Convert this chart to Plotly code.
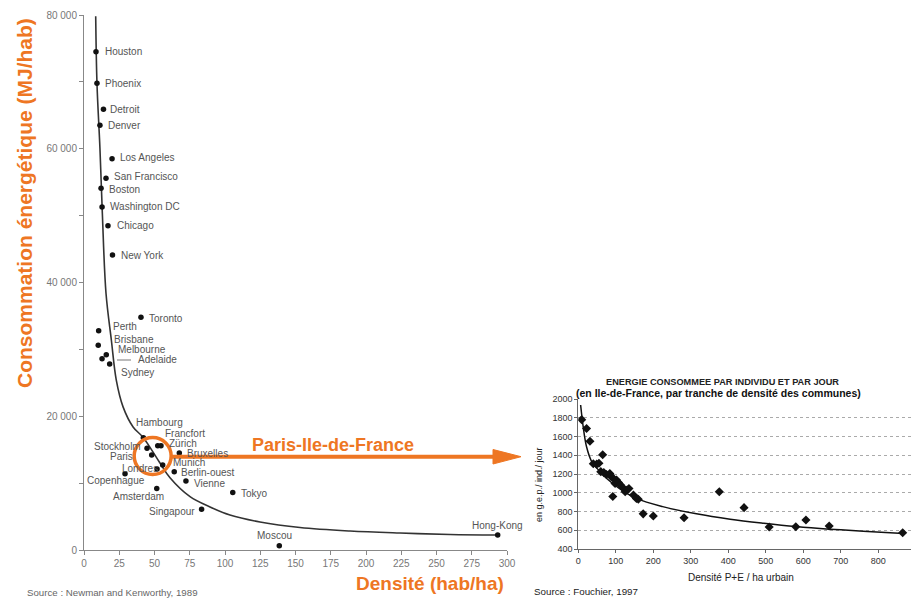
import plotly.graph_objects as go

# page body has an 8px margin: the figure is drawn 8px smaller and shifted
OFF = 8
W, H = 919 - OFF, 598 - OFF

# ---------------- Left chart data (Newman & Kenworthy) ----------------
CITIES = ["Houston", "Phoenix", "Detroit", "Denver", "Los Angeles", "San Francisco",
          "Boston", "Washington DC", "Chicago", "New York", "Toronto", "Perth",
          "Brisbane", "Melbourne", "Adelaide", "Sydney", "Hambourg", "Francfort",
          "Zürich", "Stockholm", "Paris", "Londres", "Munich", "Bruxelles",
          "Berlin-ouest", "Vienne", "Copenhague", "Amsterdam", "Tokyo", "Singapour",
          "Moscou", "Hong-Kong"]
DENSITY = [8.5, 9.2, 13.8, 11.3, 19.9, 15.6, 12.1, 12.8, 17.0, 20.2, 40.4, 10.4,
           10.1, 15.8, 12.8, 18.2, 42.1, 52.3, 54.6, 44.7, 48.0, 51.8, 55.8, 67.6,
           64.0, 72.3, 29.1, 51.6, 105.5, 83.4, 138.5, 293.4]
ENERGY = [74500, 69800, 65900, 63500, 58500, 55600, 54100, 51300, 48500, 44100,
          34800, 32800, 30600, 29200, 28600, 27800, 16800, 15600, 15600, 15200,
          14200, 12100, 12700, 14500, 11700, 10300, 11400, 9200, 8600, 6100, 640, 2240]

# trend curve
CURVE_X = [8.3, 9.2, 11.3, 13.0, 15.6, 19.4, 22.9, 27.7, 34.8, 42.1, 53.9, 61.0,
           75.2, 89.4, 103.5, 124.8, 153.2, 188.7, 224.1, 259.6, 293.4]
CURVE_Y = [79800, 69800, 60100, 50400, 38400, 31400, 25400, 21400, 18400, 16800,
           13000, 10800, 7970, 6430, 5230, 4190, 3360, 2840, 2540, 2320, 2240]

X_TICKS = list(range(0, 301, 25))

# ---------------- Right chart data (Fouchier) ----------------
IDF_DENS = [9, 22, 31, 40, 49, 55, 65, 60, 68, 75, 84, 88, 93, 98, 102, 107, 112,
            120, 125, 130, 135, 147, 155, 160, 92, 173, 200, 282, 376, 442, 509,
            580, 607, 669, 865]
IDF_ENERGY = [1780, 1685, 1550, 1310, 1305, 1315, 1405, 1225, 1215, 1195, 1205,
              1170, 1155, 1100, 1135, 1110, 1085, 1050, 1010, 1030, 1045, 975, 940,
              930, 960, 775, 752, 734, 1011, 841, 635, 638, 709, 645, 574]
IDF_CURVE_X = [6.2, 13, 22, 36, 50, 75, 110, 155, 225, 315, 405, 495, 580, 670, 760, 867]
IDF_CURVE_Y = [1936, 1705, 1490, 1330, 1260, 1155, 1045, 940, 852, 775, 718, 675,
               640, 612, 590, 565]

# label placement (style): xanchor, xshift, yshift in pixels
LABEL_STYLE = {
    "Houston": ("left", 7, 0), "Phoenix": ("left", 6, 0), "Detroit": ("left", 5, 0),
    "Denver": ("left", 6, 0), "Los Angeles": ("left", 6, 1),
    "San Francisco": ("left", 6, 2), "Boston": ("left", 6, -1),
    "Washington DC": ("left", 6, 0), "Chicago": ("left", 7, 0),
    "New York": ("left", 7, 0), "Toronto": ("left", 6, -1), "Perth": ("left", 12, 4),
    "Brisbane": ("left", 14, 6), "Melbourne": ("left", 10, 5),
    "Adelaide": ("left", 34, -1), "Sydney": ("left", 9, -8),
    "Hambourg": ("left", -9, 15), "Francfort": ("left", 5, 12), "Zürich": ("left", 6, 2),
    "Stockholm": ("right", -4, 2), "Paris": ("right", -17, -1),
    "Londres": ("right", 3, 1), "Munich": ("left", 8, 3), "Bruxelles": ("left", 6, 0),
    "Berlin-ouest": ("left", 5, -1), "Vienne": ("left", 6, -2),
    "Copenhague": ("center", -9, -7), "Amsterdam": ("center", -18, -8),
    "Tokyo": ("left", 6, -1), "Singapour": ("right", -5, -2),
    "Moscou": ("center", -5, 10), "Hong-Kong": ("center", 0, 10),
}

ORANGE = "#EE7623"
FONT = "Liberation Sans, Arial, sans-serif"


def pxx(x):
    return (x - OFF) / W


def pxy(y):
    return 1 - (y - OFF) / H


def note(x, y, text, size, color, xanchor="center", angle=0):
    return dict(x=pxx(x), y=pxy(y), xref="paper", yref="paper", text=text, showarrow=False,
                xanchor=xanchor, yanchor="middle", textangle=angle,
                font=dict(family=FONT, size=size, color=color))


fig = go.Figure()

# left curve and points
fig.add_trace(go.Scatter(x=CURVE_X, y=CURVE_Y, mode="lines", line=dict(color="#333", width=1.6, shape="spline"),
                         xaxis="x", yaxis="y", hoverinfo="skip"))
fig.add_trace(go.Scatter(x=DENSITY, y=ENERGY, mode="markers", marker=dict(color="#111", size=5.5),
                         text=CITIES, xaxis="x", yaxis="y"))

# right curve and points
fig.add_trace(go.Scatter(x=IDF_CURVE_X, y=IDF_CURVE_Y, mode="lines",
                         line=dict(color="#111", width=1.5, shape="spline"), xaxis="x2", yaxis="y2",
                         hoverinfo="skip"))
fig.add_trace(go.Scatter(x=IDF_DENS, y=IDF_ENERGY, mode="markers",
                         marker=dict(color="#111", size=7, symbol="diamond"), xaxis="x2", yaxis="y2"))

annotations = []
for c, d, e in zip(CITIES, DENSITY, ENERGY):
    xa, dx, dy = LABEL_STYLE[c]
    annotations.append(dict(x=d, y=e, xref="x", yref="y", text=c, showarrow=False,
                            xanchor=xa, yanchor="middle", xshift=dx, yshift=dy,
                            font=dict(family=FONT, size=10, color="#555")))

# text blocks
annotations += [
    note(24, 203, "<b>Consommation énergétique (MJ/hab)</b>", 21, ORANGE, angle=-90),
    note(430, 583, "<b>Densité (hab/ha)</b>", 19, ORANGE),
    note(333, 445, "<b>Paris-Ile-de-France</b>", 18, ORANGE),
    note(25, 592, "Source : Newman and Kenworthy, 1989", 9.7, "#666", xanchor="left"),
    note(722, 382, "<b>ENERGIE CONSOMMEE PAR INDIVIDU ET PAR JOUR</b>", 9.2, "#222"),
    note(718, 393, "<b>(en Ile-de-France, par tranche de densité des communes)</b>", 10.5, "#111"),
    note(539, 485, "en g.e.p./ ind./ jour", 9, "#222", angle=-90),
    note(741, 577, "Densité P+E / ha urbain", 10, "#222"),
    note(532, 591, "Source : Fouchier, 1997", 9.8, "#222", xanchor="left"),
]

shapes = [
    # orange circle around Paris cluster
    dict(type="circle", xref="x", yref="y", xsizemode="pixel", ysizemode="pixel",
         xanchor=48.7, yanchor=14050, x0=-18.5, x1=18.5, y0=-18.5, y1=18.5,
         line=dict(color=ORANGE, width=3.5), layer="above"),
    # arrow line
    dict(type="line", xref="paper", yref="paper", x0=pxx(171), x1=pxx(500), y0=pxy(456.7), y1=pxy(456.7),
         line=dict(color=ORANGE, width=4), layer="above"),
    dict(type="path", xref="paper", yref="paper",
         path=f"M {pxx(493)} {pxy(449.5)} L {pxx(521)} {pxy(456.7)} L {pxx(493)} {pxy(464)} Z",
         fillcolor=ORANGE, line=dict(color=ORANGE, width=1), layer="above"),
    # Adelaide leader line
    dict(type="line", xref="paper", yref="paper", x0=pxx(117), x1=pxx(131), y0=pxy(360), y1=pxy(360),
         line=dict(color="#777", width=1)),
]

axis_common = dict(showgrid=False, zeroline=False, showline=True, ticks="outside", automargin=False)

fig.update_layout(
    width=W, height=H, margin=dict(l=0, r=0, t=0, b=0, autoexpand=False),
    paper_bgcolor="white", plot_bgcolor="white", showlegend=False,
    separators=", ",
    font=dict(family=FONT),
    xaxis=dict(domain=[pxx(84), pxx(507)], range=[0, 300], anchor="y", tickmode="array",
               tickvals=X_TICKS, ticklen=4, tickcolor="#888", linecolor="#888",
               tickfont=dict(size=10, color="#777"), **axis_common),
    yaxis=dict(domain=[pxy(550), pxy(15)], range=[0, 80000], anchor="x", tick0=0, dtick=20000,
               tickformat=",d", ticklen=4, tickcolor="#888", linecolor="#888",
               minor=dict(dtick=10000, ticks="outside", ticklen=4, tickcolor="#888"),
               tickfont=dict(size=10, color="#777"), **axis_common),
    xaxis2=dict(domain=[pxx(578.3), pxx(915.8)], range=[0, 900], anchor="y2", tick0=0, dtick=100,
                tickformat="d", ticklen=3, tickcolor="#666", linecolor="#666",
                tickfont=dict(size=9, color="#333"), **axis_common),
    yaxis2=dict(domain=[pxy(549), pxy(399)], range=[400, 2000], anchor="x2", tick0=400, dtick=200,
                tickformat="d", ticklen=3, tickcolor="#666", linecolor="#666",
                tickfont=dict(size=9, color="#333"), showgrid=True, gridcolor="#aaa",
                griddash="dot", gridwidth=1, zeroline=False, showline=True, ticks="outside",
                automargin=False),
    annotations=annotations, shapes=shapes,
)

fig.write_html("out.html")
